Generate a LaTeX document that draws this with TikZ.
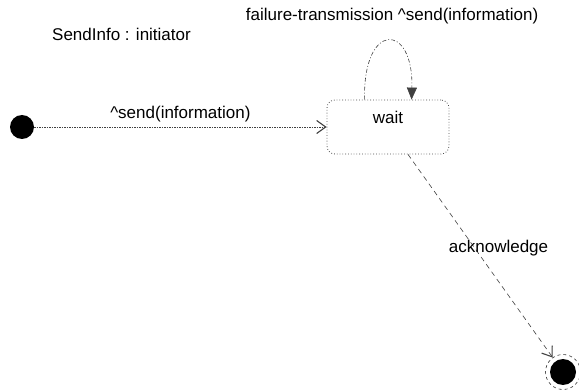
\documentclass[tikz,border=0pt]{standalone}
\usepackage{fontspec}
\setmainfont{Liberation Sans}
\usetikzlibrary{arrows.meta,positioning,calc}

\begin{document}
\begin{tikzpicture}[x=1pt,y=-1pt,font=\fontsize{17}{20}\selectfont,
  >={Straight Barb[length=9pt,width=13pt,line width=1.1pt]},
  trans/.style={draw=black!75,line width=0.6pt},
  statebox/.style={draw=black!70,dotted,line width=0.8pt,rounded corners=8pt,
    minimum width=122pt,minimum height=54pt,inner sep=0pt},
  initstate/.style={circle,fill=black,minimum size=24pt,inner sep=0pt},
  finalstate/.style={circle,draw=black!80,dashed,line width=0.6pt,minimum size=35pt,
    inner sep=0pt,path picture={\fill (path picture bounding box.center) circle (13pt);}}]
\useasboundingbox (0,0) rectangle (579,390);
% statechart name
\node[anchor=west,inner sep=0pt] (title) at (52,34) {SendInfo : initiator};
% states
\node[initstate] (init) at (22,127) {};
\node[statebox] (wait) at (388,127) {};
\node[inner sep=0pt] (waitname) at ($(wait.north)+(0,18)$) {wait};
\node[finalstate] (final) at (563,372) {};
% transitions
\draw[trans,->,dash pattern=on 1.5pt off 1pt] (init) -- (wait)
   node[midway,above=5pt,inner sep=0pt]{\textasciicircum send(information)};
\coordinate (loopout) at ($(wait.north west)+(38,0)$);
\coordinate (loopin) at ($(wait.north west)+(85,0)$);
\draw[trans,-{Triangle[length=12pt,width=10pt]},dash pattern=on 4pt off 2pt on 1pt off 2pt]
   (loopout) .. controls ++(-2,-78) and ++(2,-78) .. (loopin)
   node[pos=0.5,above=17pt,inner sep=0pt,xshift=4pt]{failure-transmission \textasciicircum send(information)};
\draw[trans,->,dash pattern=on 5pt off 4pt] ($(wait.south)+(20,0)$) -- (final)
   node[pos=0.46,xshift=24pt,inner sep=0pt]{acknowledge};
\end{tikzpicture}
\end{document}
